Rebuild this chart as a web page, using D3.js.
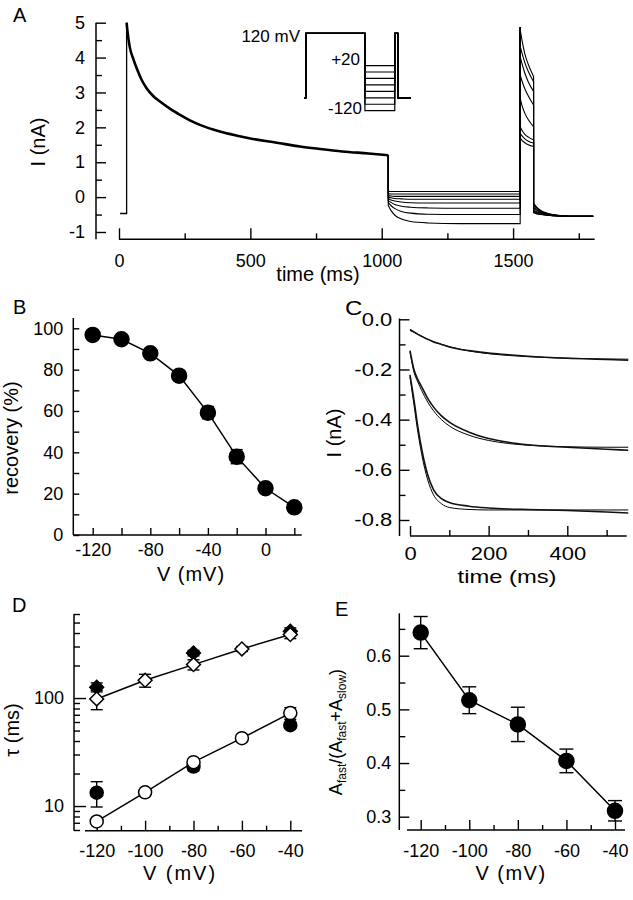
<!DOCTYPE html>
<html>
<head>
<meta charset="utf-8">
<script src="https://cdn.jsdelivr.net/npm/d3@7"></script>
<style>
  body { margin: 0; background: #fff; }
  svg { display: block; }
</style>
</head>
<body>
<script>
// ---------- panel A: whole-cell currents (nA) vs time (ms) ----------
var holdT = [4, 29], holdI = [-0.47, -0.47];
var spikeI = 5.0;
var decayT = [29, 31, 41, 55, 67, 85, 105, 130, 156, 195, 232, 270, 308, 384, 450, 500, 600, 689, 765, 850, 950, 1025];
var decayI = [5.0, 4.84, 4.3, 3.95, 3.7, 3.38, 3.12, 2.9, 2.74, 2.53, 2.36, 2.2, 2.07, 1.88, 1.76, 1.68, 1.56, 1.45, 1.38, 1.31, 1.25, 1.2];
// recovery potentials (mV), one trace each
var protoV = [20, 0, -20, -40, -60, -80, -100, -120];
var recT = [1025, 1035, 1050, 1075, 1110, 1175, 1300, 1527];
var recI = [
  [0.16, 0.16, 0.16, 0.16, 0.16, 0.16, 0.16, 0.16],
  [0.10, 0.09, 0.09, 0.09, 0.09, 0.09, 0.09, 0.09],
  [0.05, 0.03, 0.02, 0.02, 0.02, 0.02, 0.02, 0.02],
  [0.00, -0.02, -0.04, -0.05, -0.06, -0.06, -0.06, -0.06],
  [-0.05, -0.08, -0.11, -0.14, -0.16, -0.17, -0.17, -0.17],
  [-0.10, -0.15, -0.21, -0.26, -0.29, -0.31, -0.32, -0.32],
  [-0.16, -0.24, -0.33, -0.41, -0.46, -0.49, -0.50, -0.50],
  [-0.24, -0.38, -0.52, -0.63, -0.70, -0.74, -0.76, -0.76]
];
var testSpikeI = 4.87;
var testT = [1527, 1535, 1545, 1558, 1578];
var testI = [
  [1.69, 1.62, 1.56, 1.50, 1.45],
  [1.83, 1.75, 1.67, 1.60, 1.55],
  [2.02, 1.90, 1.80, 1.72, 1.64],
  [2.84, 2.60, 2.40, 2.22, 2.02],
  [3.50, 3.30, 3.10, 2.90, 2.64],
  [4.03, 3.80, 3.55, 3.30, 3.03],
  [4.32, 4.10, 3.85, 3.60, 3.31],
  [4.80, 4.45, 4.10, 3.80, 3.46]
];
var tailT = [1578, 1590, 1605, 1630, 1670, 1720, 1805];
var tailI = [
  [-0.45, -0.48, -0.50, -0.52, -0.54, -0.55, -0.55],
  [-0.42, -0.46, -0.49, -0.52, -0.54, -0.55, -0.55],
  [-0.40, -0.45, -0.48, -0.51, -0.54, -0.55, -0.55],
  [-0.35, -0.42, -0.46, -0.50, -0.53, -0.55, -0.55],
  [-0.30, -0.38, -0.44, -0.49, -0.53, -0.55, -0.55],
  [-0.25, -0.35, -0.42, -0.48, -0.53, -0.55, -0.55],
  [-0.20, -0.31, -0.40, -0.47, -0.52, -0.55, -0.55],
  [-0.17, -0.29, -0.38, -0.46, -0.52, -0.55, -0.55]
];
var xTicksA = [0, 500, 1000, 1500], xMinorA = [250, 750, 1250, 1750];
var yTicksA = [-1, 0, 1, 2, 3, 4, 5], yMinorA = [-0.5, 0.5, 1.5, 2.5, 3.5, 4.5];
// inset voltage protocol (ms, mV)
var protoHold = -80, protoPulse = 120;
var protoT = [0, 30, 1025, 1527, 1578, 1800];

// ---------- panel B: recovery (%) vs V ----------
var bV = [-120, -100, -80, -60, -40, -20, 0, 20];
var bRec = [96.8, 94.7, 87.9, 77.1, 59.2, 37.9, 22.6, 13.4];
var bErr = [0.8, 1.0, 1.2, 2.4, 3.0, 3.4, 1.0, 0.8];
var xTicksB = [-120, -80, -40, 0], xMinorB = [-100, -60, -20, 20];
var yTicksB = [0, 20, 40, 60, 80, 100], yMinorB = [10, 30, 50, 70, 90];

// ---------- panel C: current traces with fits ----------
var cT = [0, 10, 20, 30, 45, 60, 80, 100, 150, 200, 250, 300, 400, 500, 555];
var cData = [
  [-0.040, -0.050, -0.060, -0.068, -0.080, -0.090, -0.100, -0.110, -0.125, -0.135, -0.141, -0.147, -0.155, -0.160, -0.163],
  [-0.125, -0.200, -0.240, -0.270, -0.315, -0.350, -0.385, -0.410, -0.450, -0.475, -0.490, -0.500, -0.510, -0.518, -0.522],
  [-0.222, -0.320, -0.430, -0.520, -0.620, -0.680, -0.715, -0.730, -0.745, -0.752, -0.756, -0.758, -0.762, -0.768, -0.772]
];
var cFit = [
  [-0.045, -0.052, -0.060, -0.068, -0.079, -0.089, -0.100, -0.109, -0.126, -0.137, -0.144, -0.149, -0.155, -0.158, -0.159],
  [-0.130, -0.210, -0.250, -0.285, -0.330, -0.365, -0.400, -0.425, -0.462, -0.483, -0.495, -0.502, -0.508, -0.510, -0.510],
  [-0.230, -0.340, -0.450, -0.540, -0.640, -0.700, -0.735, -0.750, -0.758, -0.760, -0.760, -0.760, -0.760, -0.760, -0.760]
];
var xTicksC = [0, 200, 400], xMinorC = [100, 300, 500];
var yTicksC = [-0.8, -0.6, -0.4, -0.2, 0], yMinorC = [-0.7, -0.5, -0.3, -0.1];

// ---------- panel D: time constants (ms) vs V ----------
var dV = [-120, -100, -80, -60, -40];
var dSlowOpen = [98, 146, 204, 285, 387], dSlowOpenErr = [20, 20, 22, 15, 32];
var dFastOpen = [7.2, 13.4, 25.5, 42.5, 72.5], dFastOpenErr = [0.3, 0.5, 1.5, 3, 9];
var dV2 = [-120, -80, -40];
var dSlowFill = [126, 261, 416], dSlowFillErr = [12, 15, 30];
var dFastFill = [13.3, 23.2, 56], dFastFillErr = [3.5, 2, 3];
var xTicksD = [-120, -100, -80, -60, -40], xMinorD = [-110, -90, -70, -50];
var yTicksD = [10, 100], yMinorD = [6, 7, 8, 9, 20, 30, 40, 50, 60, 70, 80, 90, 200, 300, 400, 500, 600];

// ---------- panel E: fast amplitude fraction vs V ----------
var eV = [-120, -100, -80, -60, -40];
var eFrac = [0.643, 0.517, 0.472, 0.404, 0.311];
var eErr = [0.030, 0.025, 0.032, 0.022, 0.019];
var xTicksE = [-120, -100, -80, -60, -40], xMinorE = [-110, -90, -70, -50];
var yTicksE = [0.3, 0.4, 0.5, 0.6], yMinorE = [0.35, 0.45, 0.55, 0.65];

var FONT = '"Liberation Sans", Arial, Helvetica, sans-serif';
var svg = d3.select("body").append("svg")
    .attr("width", 633).attr("height", 900)
    .style("font-family", FONT);

var intFmt = function (d) { return String(d); },
    oneDec = function (d) { return d.toFixed(1); };

function ticks(axisFn, scale, vals, len, pad, fmt, tx, ty) {
    var ax = axisFn(scale).tickValues(vals).tickSize(-len).tickPadding(pad)
        .tickFormat(fmt || function () { return ""; });
    var a = svg.append("g").attr("transform", "translate(" + tx + "," + ty + ")").call(ax);
    a.select(".domain").remove();
    a.selectAll("line").attr("stroke", "#000").attr("stroke-width", 1.4);
    a.selectAll("text").attr("font-size", 18).attr("font-family", FONT).attr("fill", "#000");
    return a;
}
function hline(x1, x2, y) {
    svg.append("line").attr("x1", x1).attr("x2", x2).attr("y1", y).attr("y2", y)
        .attr("stroke", "#000").attr("stroke-width", 1.5);
}
function vline(x, y1, y2) {
    svg.append("line").attr("x1", x).attr("x2", x).attr("y1", y1).attr("y2", y2)
        .attr("stroke", "#000").attr("stroke-width", 1.5);
}
function label(txt, x, y, opts) {
    opts = opts || {};
    var t = svg.append("text").attr("font-size", opts.size || 20).attr("fill", "#000")
        .attr("text-anchor", opts.anchor || "start");
    var tr = "translate(" + x + "," + y + ")";
    if (opts.rotate) tr += "rotate(-90)";
    if (opts.sx) tr += "scale(" + opts.sx + ",1)";
    t.attr("transform", tr);
    if (opts.spacing) t.attr("letter-spacing", opts.spacing);
    t.text(txt);
    return t;
}
function errBars(xs, ys, es, xS, yS, cap) {
    var g = svg.append("g").attr("stroke", "#000").attr("stroke-width", 1.4);
    xs.forEach(function (v, i) {
        var x = xS(v), y1 = yS(ys[i] - es[i]), y2 = yS(ys[i] + es[i]);
        g.append("line").attr("x1", x).attr("x2", x).attr("y1", y1).attr("y2", y2);
        g.append("line").attr("x1", x - cap).attr("x2", x + cap).attr("y1", y1).attr("y2", y1);
        g.append("line").attr("x1", x - cap).attr("x2", x + cap).attr("y1", y2).attr("y2", y2);
    });
}
function polyline(xs, ys, xS, yS) {
    svg.append("path").attr("fill", "none").attr("stroke", "#000").attr("stroke-width", 1.5)
        .attr("d", d3.line().x(function (d) { return xS(d[0]); }).y(function (d) { return yS(d[1]); })(d3.zip(xs, ys)));
}
function dots(xs, ys, xS, yS, r, fill) {
    svg.append("g").selectAll("circle").data(d3.zip(xs, ys)).join("circle")
        .attr("cx", function (d) { return xS(d[0]); }).attr("cy", function (d) { return yS(d[1]); })
        .attr("r", r).attr("fill", fill).attr("stroke", "#000").attr("stroke-width", 1.5);
}
function diamonds(xs, ys, xS, yS, fill) {
    var sym = d3.symbol().type(d3.symbolSquare).size(96);
    svg.append("g").selectAll("path").data(d3.zip(xs, ys)).join("path")
        .attr("transform", function (d) { return "translate(" + xS(d[0]) + "," + yS(d[1]) + ")rotate(45)"; })
        .attr("d", sym).attr("fill", fill).attr("stroke", "#000").attr("stroke-width", 1.5);
}

// ================= A =================
var xA = d3.scaleLinear().domain([0, 1800]).range([119, 591.9]);
var yA = d3.scaleLinear().domain([-1, 5]).range([232, 22.7]);
vline(96, 22.7, 239.3);
hline(119, 594.7, 239.3);
ticks(d3.axisLeft, yA, yTicksA, 10, 11, intFmt, 96, 0);
ticks(d3.axisLeft, yA, yMinorA, 6, 11, null, 96, 0);
ticks(d3.axisBottom, xA, xTicksA, 11, 15, intFmt, 0, 239.3);
ticks(d3.axisBottom, xA, xMinorA, 6, 15, null, 0, 239.3);

var lineA = d3.line().x(function (d) { return xA(d[0]); }).y(function (d) { return yA(d[1]); });
var smoothA = d3.line().x(function (d) { return xA(d[0]); }).y(function (d) { return yA(d[1]); })
    .curve(d3.curveMonotoneX);
function join(a) { return a.replace(/^M/, "L"); }

var traces = svg.append("g").attr("fill", "none").attr("stroke", "#000");
traces.append("path").attr("stroke-width", 1.3)
    .attr("d", lineA(d3.zip(holdT, holdI)) + "L" + xA(holdT[1]) + "," + yA(spikeI));
protoV.forEach(function (v, i) {
    var d = "M" + xA(recT[0]) + "," + yA(decayI[decayI.length - 1]) +
        join(smoothA(d3.zip(recT, recI[i]))) +
        "L" + xA(testT[0]) + "," + yA(testSpikeI) +
        join(smoothA(d3.zip(testT, testI[i]))) +
        join(smoothA(d3.zip(tailT, tailI[i])));
    traces.append("path").attr("stroke-width", 1.1).attr("d", d);
});
traces.append("path").attr("stroke-width", 2.6).attr("d", smoothA(d3.zip(decayT, decayI)));

// inset: voltage protocol
var xP = d3.scaleLinear().domain([0, 1800]).range([304, 411]);
var yP = d3.scaleLinear().domain([-120, 120]).range([110.7, 33.3]);
var protoLine = d3.line().x(function (d) { return xP(d[0]); }).y(function (d) { return yP(d[1]); });
protoV.forEach(function (v) {
    var pts = [[protoT[0], protoHold], [protoT[1], protoHold], [protoT[1], protoPulse], [protoT[2], protoPulse],
               [protoT[2], v], [protoT[3], v], [protoT[3], protoPulse], [protoT[4], protoPulse],
               [protoT[4], protoHold], [protoT[5], protoHold]];
    svg.append("path").attr("fill", "none").attr("stroke", "#000").attr("stroke-width", 1.2)
        .attr("d", protoLine(pts));
});
label("120 mV", 300, 42, { anchor: "end", size: 17 });
label("+20", 360, 65, { anchor: "end", size: 17 });
label("-120", 362, 114, { anchor: "end", size: 17 });

label("A", 13, 22);
label("I (nA)", 45, 142, { rotate: true, anchor: "middle" });
label("time (ms)", 318, 281, { anchor: "middle" });

// ================= B =================
var xB = d3.scaleLinear().domain([-120, 20]).range([92.7, 294.3]);
var yB = d3.scaleLinear().domain([0, 100]).range([535, 328.3]);
vline(73.3, 318, 535);
hline(73.3, 301.7, 535);
ticks(d3.axisLeft, yB, yTicksB, 6, 10, intFmt, 73.3, 0);
ticks(d3.axisLeft, yB, yMinorB, 6, 10, null, 73.3, 0);
ticks(d3.axisBottom, xB, xTicksB, 7, 8, intFmt, 0, 535);
ticks(d3.axisBottom, xB, xMinorB, 7, 8, null, 0, 535);
errBars(bV, bRec, bErr, xB, yB, 6);
polyline(bV, bRec, xB, yB);
dots(bV, bRec, xB, yB, 7.5, "#000");
label("B", 13, 314);
label("recovery (%)", 18, 438, { rotate: true, anchor: "middle" });
label("V (mV)", 191, 581, { anchor: "middle", spacing: 1 });

// ================= C =================
var xC = d3.scaleLinear().domain([0, 400]).range([410, 567.3]);
var yC = d3.scaleLinear().domain([-0.8, 0]).range([520, 319.3]);
vline(399.5, 318.5, 536);
hline(410, 626.7, 536);
ticks(d3.axisLeft, yC, yTicksC, 10, 6, oneDec, 399.5, 0)
    .selectAll("text").attr("transform", "scale(1.22,1)");
ticks(d3.axisLeft, yC, yMinorC, 6, 8, null, 399.5, 0);
ticks(d3.axisBottom, xC, xTicksC, 10, 11, intFmt, 0, 536)
    .selectAll("text").attr("transform", "scale(1.22,1)");
ticks(d3.axisBottom, xC, xMinorC, 6, 11, null, 0, 536);
var lineC = d3.line().x(function (d) { return xC(d[0]); }).y(function (d) { return yC(d[1]); })
    .curve(d3.curveMonotoneX);
cFit.forEach(function (f) {
    svg.append("path").attr("fill", "none").attr("stroke", "#000").attr("stroke-width", 1)
        .attr("d", lineC(d3.zip(cT, f)));
});
cData.forEach(function (f) {
    svg.append("path").attr("fill", "none").attr("stroke", "#111").attr("stroke-width", 1.6)
        .attr("d", lineC(d3.zip(cT, f)));
});
label("C", 345, 315, { sx: 1.2 });
label("I (nA)", 341, 433, { rotate: true, anchor: "middle" });
label("time (ms)", 507, 583, { anchor: "middle", sx: 1.25, size: 19 });

// ================= D =================
var xD = d3.scaleLinear().domain([-120, -40]).range([96.7, 290.3]);
var yD = d3.scaleLog().domain([6, 600]).range([830, 614]);
vline(74, 614, 830.7);
hline(85, 302, 830.7);
ticks(d3.axisLeft, yD, yTicksD, 12, 10, intFmt, 74, 0);
ticks(d3.axisLeft, yD, yMinorD, 6, 10, null, 74, 0);
ticks(d3.axisBottom, xD, xTicksD, 10, 14, intFmt, 0, 830.7);
ticks(d3.axisBottom, xD, xMinorD, 5, 14, null, 0, 830.7);
errBars(dV2, dSlowFill, dSlowFillErr, xD, yD, 6);
errBars(dV2, dFastFill, dFastFillErr, xD, yD, 6);
errBars(dV, dSlowOpen, dSlowOpenErr, xD, yD, 6);
errBars(dV, dFastOpen, dFastOpenErr, xD, yD, 6);
polyline(dV, dSlowOpen, xD, yD);
polyline(dV, dFastOpen, xD, yD);
diamonds(dV2, dSlowFill, xD, yD, "#000");
dots(dV2, dFastFill, xD, yD, 6.5, "#000");
diamonds(dV, dSlowOpen, xD, yD, "#fff");
dots(dV, dFastOpen, xD, yD, 6.5, "#fff");
label("D", 12, 612);
label("\u03c4 (ms)", 19, 730, { rotate: true, anchor: "middle" });
label("V (mV)", 180, 880, { anchor: "middle", spacing: 2 });

// ================= E =================
var xE = d3.scaleLinear().domain([-120, -40]).range([420.7, 615]);
var yE = d3.scaleLinear().domain([0.3, 0.6]).range([816.7, 655.7]);
vline(399.3, 613.3, 830);
hline(407, 625, 830);
ticks(d3.axisLeft, yE, yTicksE, 10, 8, oneDec, 399.3, 0);
ticks(d3.axisLeft, yE, yMinorE, 6, 8, null, 399.3, 0);
ticks(d3.axisBottom, xE, xTicksE, 10, 14, intFmt, 0, 830);
ticks(d3.axisBottom, xE, xMinorE, 5, 14, null, 0, 830);
errBars(eV, eFrac, eErr, xE, yE, 7);
polyline(eV, eFrac, xE, yE);
dots(eV, eFrac, xE, yE, 7.5, "#000");
label("E", 335, 616);
var eLab = svg.append("text").attr("font-size", 18).attr("fill", "#000").attr("text-anchor", "middle")
    .attr("transform", "translate(342,732)rotate(-90)");
[["A", 0], ["fast", 1], ["/(A", 0], ["fast", 1], ["+A", 0], ["slow", 1], [")", 0]].forEach(function (p) {
    var ts = eLab.append("tspan").text(p[0]);
    if (p[1]) ts.attr("font-size", 12).attr("baseline-shift", "-4");
});
label("V (mV)", 511, 880, { anchor: "middle", spacing: 1.5 });
</script>
</body>
</html>
